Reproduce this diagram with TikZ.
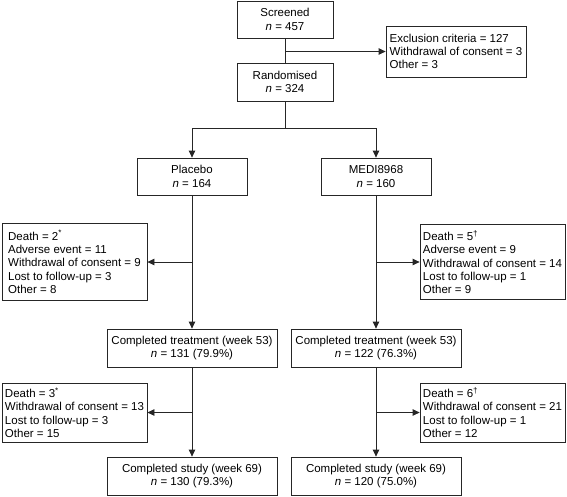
\documentclass[tikz,border=0pt]{standalone}
\usepackage{fontspec}
\setmainfont{Liberation Sans}
\usetikzlibrary{arrows.meta}
\begin{document}
\begin{tikzpicture}[x=1pt,y=-1pt,
  every node/.style={font=\fontsize{11.5}{13.3}\selectfont},
  cbox/.style={draw=black!85, line width=0.8pt, align=center, inner sep=2pt, minimum height=37pt},
  lbox/.style={draw=black!85, line width=0.8pt, align=left, inner sep=2pt, minimum width=145pt},
  arr/.style={draw=black!85, line width=0.8pt, -{Triangle[length=7pt,width=6.5pt]}},
  ln/.style={draw=black!85, line width=0.8pt}]
\useasboundingbox (0,0) rectangle (567,496);

\node[cbox, minimum width=96pt] (scr) at (285,19.5) {Screened\\\textit{n} = 457};
\node[cbox, minimum width=96pt, minimum height=38pt] (ran) at (285,82) {Randomised\\\textit{n} = 324};
\node[lbox, minimum width=140pt, minimum height=51pt] (exc) at (456,51.5) {Exclusion criteria = 127\\Withdrawal of consent = 3\\Other = 3};

\node[cbox, minimum width=110pt] (pla) at (192,176.5) {Placebo\\\textit{n} = 164};
\node[cbox, minimum width=110pt] (med) at (376,176.5) {MEDI8968\\\textit{n} = 160};

\node[lbox, minimum height=77pt] (d1l) at (74.5,262) {Death = 2\textsuperscript{*}\\Adverse event = 11\\Withdrawal of consent = 9\\Lost to follow-up = 3\\Other = 8};
\node[lbox, minimum height=75pt] (d1r) at (492.5,262) {Death = 5\textsuperscript{†}\\Adverse event = 9\\Withdrawal of consent = 14\\Lost to follow-up = 1\\Other = 9};

\node[cbox, minimum width=170pt, minimum height=38pt] (ctl) at (192,348) {Completed treatment (week 53)\\\textit{n} = 131 (79.9\%)};
\node[cbox, minimum width=170pt, minimum height=38pt] (ctr) at (376,348) {Completed treatment (week 53)\\\textit{n} = 122 (76.3\%)};

\node[lbox, minimum height=59pt] (d2l) at (74.5,412.5) {Death = 3\textsuperscript{*}\\Withdrawal of consent = 13\\Lost to follow-up = 3\\Other = 15};
\node[lbox, minimum height=59pt] (d2r) at (492.5,412.5) {Death = 6\textsuperscript{†}\\Withdrawal of consent = 21\\Lost to follow-up = 1\\Other = 12};

\node[cbox, minimum width=170pt, minimum height=38pt] (csl) at (192,476) {Completed study (week 69)\\\textit{n} = 130 (79.3\%)};
\node[cbox, minimum width=170pt, minimum height=38pt] (csr) at (376,476) {Completed study (week 69)\\\textit{n} = 120 (75.0\%)};

% connectors
\draw[ln] (scr.south) -- (ran.north);
\draw[arr] (scr.south |- exc.west) -- (exc.west);
\coordinate (split) at (285,128);
\draw[ln] (ran.south) -- (split);
\draw[arr] (split) -| (pla.north);
\draw[arr] (split) -| (med.north);

\draw[arr] (pla.south) -- (ctl.north);
\draw[arr] (pla.south |- d1l.east) -- (d1l.east);
\draw[arr] (med.south) -- (ctr.north);
\draw[arr] (med.south |- d1r.west) -- (d1r.west);

\draw[arr] (ctl.south) -- (csl.north);
\draw[arr] (ctl.south |- d2l.east) -- (d2l.east);
\draw[arr] (ctr.south) -- (csr.north);
\draw[arr] (ctr.south |- d2r.west) -- (d2r.west);
\end{tikzpicture}
\end{document}
